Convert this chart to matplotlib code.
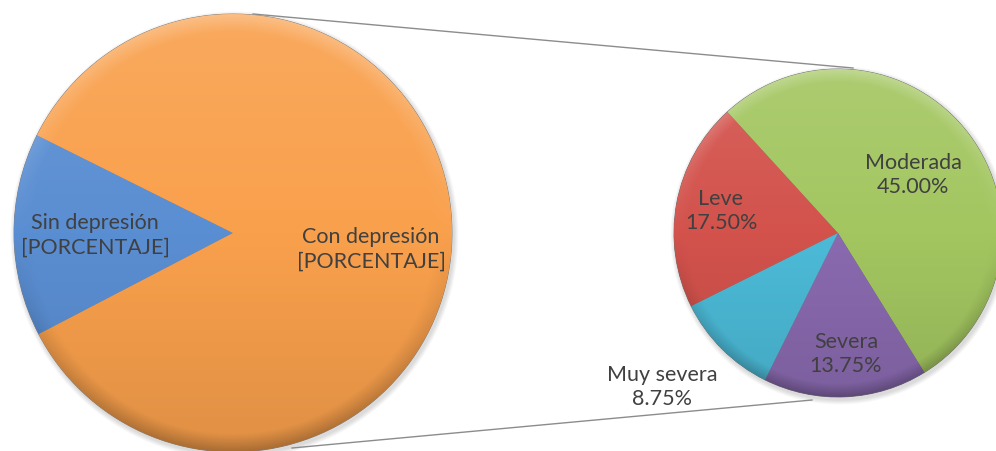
import numpy as np
import matplotlib
matplotlib.use("Agg")
import matplotlib.pyplot as plt
from matplotlib.colors import to_rgb

plt.rcParams['font.family'] = ['Lato', 'DejaVu Sans']

# ---- data ----
main_labels = ["Sin depresión", "Con depresión"]
main_values = [15.0, 85.0]
main_texts = ["[PORCENTAJE]", "[PORCENTAJE]"]
main_colors = ["#5a8ed2", "#f9a04c"]

sub_labels = ["Leve", "Moderada", "Severa", "Muy severa"]
sub_values = [17.50, 45.00, 13.75, 8.75]
sub_colors = ["#d3524c", "#a3c660", "#8a6ab0", "#4cbbd8"]

W, H = 996, 452
fig = plt.figure(figsize=(W / 100, H / 100), dpi=100)
ax = fig.add_axes([0, 0, 1, 1])

def py(y):
    return H - y

L_center = (233, py(234)); L_r = 219
R_center = (838, py(234)); R_r = 164

def shade(wedges, colors, center, r):
    cx, cy = center
    n = 300
    xs = np.linspace(cx - r, cx + r, n)
    ys = np.linspace(cy - r, cy + r, n)
    X, Y = np.meshgrid(xs, ys)
    d = np.hypot(X - cx, Y - cy) / r
    vy = (Y - cy) / r  # -1 bottom, +1 top
    for w, c in zip(wedges, colors):
        base = np.array(to_rgb(c))
        img = np.ones((n, n, 3)) * base
        f = 0.10 * vy
        rim = np.clip((d - 0.92) / 0.08, 0, 1)
        f = f + rim * 0.22 * vy
        f3 = f[..., None]
        img = np.where(f3 > 0, img + (1 - img) * f3, img * (1 + f3))
        img = np.clip(img, 0, 1)
        im = ax.imshow(img, extent=(cx - r, cx + r, cy - r, cy + r),
                       origin='lower', interpolation='bilinear', zorder=2)
        im.set_clip_path(w)

# soft shadows
for (c, r) in [(L_center, L_r), (R_center, R_r)]:
    for k in range(6):
        circ = plt.Circle((c[0] + 1.5, c[1] - 2.5), r + 1 + k * 0.8,
                          color='black', alpha=0.025, zorder=0.5, lw=0)
        ax.add_patch(circ)

wL, _ = ax.pie(main_values, colors=main_colors, startangle=153.5,
               counterclock=True, center=L_center, radius=L_r,
               wedgeprops=dict(edgecolor='#7a7a7a', linewidth=0.6), frame=True)
shade(wL, main_colors, L_center, L_r)

wR, _ = ax.pie(sub_values, colors=sub_colors, startangle=206.5,
               counterclock=False, center=R_center, radius=R_r,
               wedgeprops=dict(edgecolor='#6a6a6a', linewidth=0.6), frame=True)
shade(wR, sub_colors, R_center, R_r)

ax.set_xlim(0, W)
ax.set_ylim(0, H)
ax.set_aspect('equal')
ax.axis('off')

# connector lines
ax.plot([253, 853], [py(15), py(69)], color='#8c8c8c', lw=1.0, zorder=1)
ax.plot([292, 812], [py(449), py(401)], color='#8c8c8c', lw=1.0, zorder=1)

tc = '#404040'
fs = 15.5
ls = 1.3
ax.text(95, py(235), f"{main_labels[0]}\n{main_texts[0]}", ha='center', va='center',
        fontsize=fs, color=tc, linespacing=ls, zorder=5)
ax.text(371, py(249), f"{main_labels[1]}\n{main_texts[1]}", ha='center', va='center',
        fontsize=fs, color=tc, linespacing=ls, zorder=5)

sub_pos = [(721, 211), (913, 175), (846, 354), (662, 387)]
for lab, v, (x, y) in zip(sub_labels, sub_values, sub_pos):
    ax.text(x, py(y), f"{lab}\n{v:.2f}%", ha='center', va='center',
            fontsize=fs, color=tc, linespacing=ls, zorder=5)

fig.savefig("out.png", dpi=100, facecolor='white')
